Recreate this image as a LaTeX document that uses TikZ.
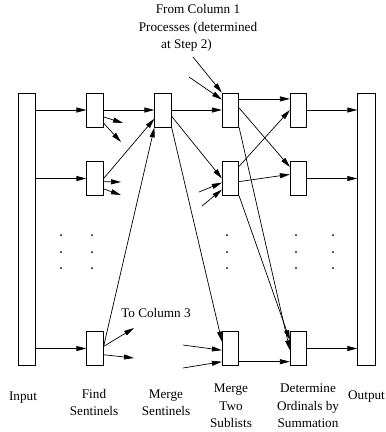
\documentclass[tikz,border=0pt]{standalone}
\usepackage{fontspec}
\setmainfont{Liberation Serif}
\usetikzlibrary{arrows.meta,calc}
\begin{document}
\begin{tikzpicture}[x=1pt,y=-1pt,
  proc/.style={draw, line width=0.7pt, minimum width=16.5pt, minimum height=34pt, inner sep=0pt},
  bar/.style={draw, line width=0.9pt, minimum width=17.5pt, minimum height=272pt, inner sep=0pt},
  arr/.style={line width=0.7pt, -{Triangle[length=10pt,width=5pt]}},
  lbl/.style={align=center, inner sep=0pt, font=\fontsize{13.2}{17.5}\selectfont},
  dot/.style={fill=black},
]
\useasboundingbox (0,0) rectangle (386,432);
\clip (0,0) rectangle (386,432);

% input and output arrays
\node[bar] (in)  at (27,229) {};
\node[bar] (out) at (366.5,229) {};

% processes, column by column
\node[proc] (f1) at (95,110) {};
\node[proc] (f2) at (95,178.5) {};
\node[proc] (f3) at (95,348.5) {};
\node[proc] (m1) at (163,110) {};
\node[proc] (t1) at (230.5,110) {};
\node[proc] (t2) at (230.5,178.5) {};
\node[proc] (t3) at (230.5,348.5) {};
\node[proc] (d1) at (298.5,110) {};
\node[proc] (d2) at (298.5,178.5) {};
\node[proc] (d3) at (298.5,348.5) {};

% free ends of the partial connectors
\coordinate (fa) at (123,123);
\coordinate (fb) at (121,142);
\coordinate (fc) at (121,182);
\coordinate (fd) at (121,195);
\coordinate (fe) at (134,328);
\coordinate (ff) at (134,358);
\coordinate (ga) at (193,57);
\coordinate (gb) at (189,77);
\coordinate (gc) at (199,192);
\coordinate (gd) at (202,206);
\coordinate (ge) at (183,345);
\coordinate (gf) at (183,368);

% input to find sentinels
\draw[arr] (in.east |- f1.west) -- (f1.west);
\draw[arr] (in.east |- f2.west) -- (f2.west);
\draw[arr] (in.east |- f3.west) -- (f3.west);

% find sentinels outputs
\draw[arr] (f1.east) -- (m1.west);
\draw[arr] ($(f1.north east)!.7!(f1.south east)$) -- (fa);
\draw[arr] ($(f1.north east)!.88!(f1.south east)$) -- (fb);
\draw[arr] (f2.east) -- ($(m1.north west)!.75!(m1.south west)$);
\draw[arr] ($(f2.north east)!.59!(f2.south east)$) -- (fc);
\draw[arr] ($(f2.north east)!.8!(f2.south east)$) -- (fd);
\draw[arr] ($(f3.north east)!.44!(f3.south east)$) -- (m1.south west);
\draw[arr] ($(f3.north east)!.44!(f3.south east)$) -- (fe);
\draw[arr] ($(f3.north east)!.68!(f3.south east)$) -- (ff);

% merge sentinels outputs
\draw[arr] (m1.east) -- (t1.west);
\draw[arr] ($(m1.north east)!.68!(m1.south east)$) -- (t2.west);
\draw[arr] (m1.south east) -- ($(t3.north west)!.3!(t3.south west)$);

% merge two sublists
\draw[arr] (ga) -- (t1.north west);
\draw[arr] (gb) -- ($(t1.north west)!.2!(t1.south west)$);
\draw[arr] ($(t1.north east)!.18!(t1.south east)$) -- ($(d1.north west)!.18!(d1.south west)$);
\draw[arr] ($(t1.north east)!.44!(t1.south east)$) -- ($(d2.north west)!.17!(d2.south west)$);
\draw[arr] (t1.south east) -- ($(d3.north west)!.55!(d3.south west)$);

\draw[arr] (gc) -- ($(t2.north west)!.62!(t2.south west)$);
\draw[arr] (gd) -- ($(t2.north west)!.82!(t2.south west)$);
\draw[arr] ($(t2.north east)!.15!(t2.south east)$) -- (d1.west);
\draw[arr] ($(t2.north east)!.59!(t2.south east)$) -- ($(d2.north west)!.38!(d2.south west)$);
\draw[arr] (t2.south east) -- ($(d3.north west)!.26!(d3.south west)$);

\draw[arr] (ge) -- ($(t3.north west)!.55!(t3.south west)$);
\draw[arr] (gf) -- ($(t3.north west)!.88!(t3.south west)$);
\draw[arr] ($(t3.north east)!.88!(t3.south east)$) -- ($(d3.north west)!.88!(d3.south west)$);

% determine ordinals to output
\draw[arr] (d1.east) -- (d1.east -| out.west);
\draw[arr] (d2.east) -- (d2.east -| out.west);
\draw[arr] (d3.east) -- (d3.east -| out.west);

% elided rows
\foreach \x in {61,92,227,296,333}
  \foreach \y in {235,252,268}
    \fill[dot] (\x,\y) circle (1pt);

% labels
\node[lbl] (lfrom) at (198,28) {From Column 1\\Processes (determined\\at Step 2)\hspace*{23pt}};
\node[lbl] (lto) at (156,313) {To Column 3};
\node[lbl] (lin) at (23,398) {Input};
\node[lbl] (lfind) at (94,402.5) {Find\\Sentinels};
\node[lbl] (lms) at (166,402.5) {Merge\\Sentinels};
\node[lbl] (lm2) at (231,406) {Merge\\Two\\Sublists};
\node[lbl] (ldet) at (308,406) {Determine\\Ordinals by\\Summation};
\node[lbl, anchor=west] (lout) at (348,397) {Output};
\end{tikzpicture}
\end{document}
